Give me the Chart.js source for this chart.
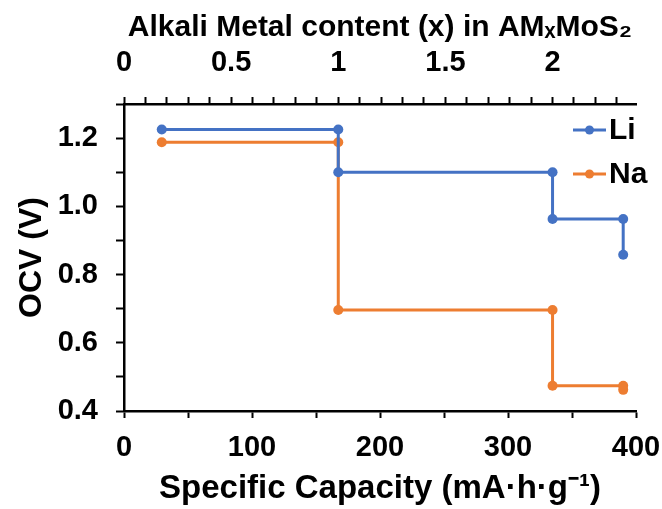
<!DOCTYPE html>
<html>
<head>
<meta charset="utf-8">
<script src="https://cdn.jsdelivr.net/npm/chart.js@4.4.1/dist/chart.umd.min.js"></script>
<style>
  html, body { margin: 0; padding: 0; background: #fff; }
  #wrap { width: 662px; height: 509px; }
</style>
</head>
<body>
<div id="wrap"><canvas id="chart" width="662" height="509"></canvas></div>
<script>
// capacity (mA·h/g) at each step corner, OCV (V)
const liCapacity = [29.5, 167.4, 167.4, 334.8, 334.8, 390, 390];
const liOcv = [1.225, 1.225, 1.10, 1.10, 0.963, 0.963, 0.858];
const naCapacity = [29.5, 167.4, 167.4, 334.8, 334.8, 390, 390];
const naOcv = [1.188, 1.188, 0.696, 0.696, 0.474, 0.474, 0.462];

const capacityTicks = [0, 100, 200, 300, 400];
const contentTicks = [0, 0.5, 1, 1.5, 2];
const ocvTicks = [0.4, 0.6, 0.8, 1.0, 1.2];
const capacityPerIon = 167.4; // mA·h/g for x = 1

const blue = '#4472C4';
const orange = '#ED7D31';
const fontFamily = '"Liberation Sans", Arial, sans-serif';

function toPoints(xs, ys) {
    return xs.map((x, i) => ({ x: x, y: ys[i] }));
}

function isTick(list, value) {
    return list.some(t => Math.abs(t - value) < 1e-6);
}

// keep the plot box fixed, labels may hang over the edge
function fixHeight(h) {
    return s => {
        s.height = h;
        s.paddingLeft = 0;
        s.paddingRight = 0;
    };
}

// legend drawn as line + dot like the spreadsheet one
const stepLegend = {
    id: 'stepLegend',
    afterDraw(chart) {
        const ctx = chart.ctx;
        const rows = [130, 174];
        chart.data.datasets.forEach((ds, i) => {
            const y = rows[i];
            ctx.save();
            ctx.strokeStyle = ds.borderColor;
            ctx.lineWidth = 3;
            ctx.beginPath();
            ctx.moveTo(573, y);
            ctx.lineTo(606, y);
            ctx.stroke();
            ctx.fillStyle = ds.borderColor;
            ctx.beginPath();
            ctx.arc(589.5, y, 4.5, 0, Math.PI * 2);
            ctx.fill();
            ctx.fillStyle = '#000';
            ctx.font = 'bold 30px ' + fontFamily;
            ctx.textBaseline = 'middle';
            ctx.textAlign = 'left';
            ctx.fillText(ds.label, 609, y + 1);
            ctx.restore();
        });
    }
};

const axisColor = '#000';
const tickFont = { family: fontFamily, size: 29, weight: 'bold' };

new Chart(document.getElementById('chart'), {
    type: 'scatter',
    data: {
        datasets: [
            {
                label: 'Li',
                data: toPoints(liCapacity, liOcv),
                showLine: true,
                borderColor: blue,
                backgroundColor: blue,
                borderWidth: 3,
                pointRadius: 5,
                pointBorderWidth: 0,
                xAxisID: 'x',
                yAxisID: 'y'
            },
            {
                label: 'Na',
                data: toPoints(naCapacity, naOcv),
                showLine: true,
                borderColor: orange,
                backgroundColor: orange,
                borderWidth: 3,
                pointRadius: 5,
                pointBorderWidth: 0,
                xAxisID: 'x',
                yAxisID: 'y'
            }
        ]
    },
    options: {
        responsive: false,
        animation: false,
        devicePixelRatio: 1,
        layout: { padding: { left: 0, right: 26, top: 0, bottom: 0 } },
        plugins: {
            legend: { display: false },
            tooltip: { enabled: false }
        },
        scales: {
            x: {
                type: 'linear',
                position: 'bottom',
                min: 0,
                max: 400,
                afterFit: fixHeight(98),
                border: { display: true, color: axisColor, width: 2.5 },
                grid: { drawOnChartArea: false, drawTicks: true, tickLength: 7, tickWidth: 2, tickColor: axisColor },
                ticks: {
                    stepSize: 50,
                    autoSkip: false,
                    maxRotation: 0,
                    padding: 13,
                    color: '#000',
                    font: tickFont,
                    callback: v => isTick(capacityTicks, v) ? String(v) : ''
                },
                title: {
                    display: true,
                    text: 'Specific Capacity (mA·h·g⁻¹)',
                    color: '#000',
                    font: { family: fontFamily, size: 33, weight: 'bold' },
                    padding: { top: 0, bottom: 0 }
                }
            },
            x2: {
                type: 'linear',
                position: 'top',
                min: 0,
                max: 400 / capacityPerIon,
                afterFit: fixHeight(104),
                border: { display: true, color: axisColor, width: 2.5 },
                grid: { drawOnChartArea: false, drawTicks: true, tickLength: 7, tickWidth: 2, tickColor: axisColor },
                ticks: {
                    stepSize: 0.1,
                    includeBounds: false,
                    autoSkip: false,
                    maxRotation: 0,
                    padding: 17,
                    color: '#000',
                    font: tickFont,
                    callback: v => isTick(contentTicks, v) ? String(Math.round(v * 10) / 10) : ''
                },
                title: {
                    display: true,
                    text: 'Alkali Metal content (x) in AMₓMoS₂',
                    color: '#000',
                    font: { family: fontFamily, size: 30, weight: 'bold' },
                    padding: { top: 10, bottom: 0 }
                }
            },
            y: {
                type: 'linear',
                position: 'left',
                min: 0.4,
                max: 1.3,
                afterFit: s => { s.width = 124; },
                border: { display: true, color: axisColor, width: 2.5 },
                grid: { drawOnChartArea: false, drawTicks: true, tickLength: 8, tickWidth: 2, tickColor: axisColor },
                ticks: {
                    stepSize: 0.1,
                    autoSkip: false,
                    padding: 18,
                    color: '#000',
                    font: tickFont,
                    callback: v => isTick(ocvTicks, v) ? v.toFixed(1) : ''
                },
                title: {
                    display: true,
                    text: 'OCV (V)',
                    color: '#000',
                    font: { family: fontFamily, size: 32, weight: 'bold' },
                    padding: { top: 13, bottom: 0 }
                }
            }
        }
    },
    plugins: [stepLegend]
});
</script>
</body>
</html>
